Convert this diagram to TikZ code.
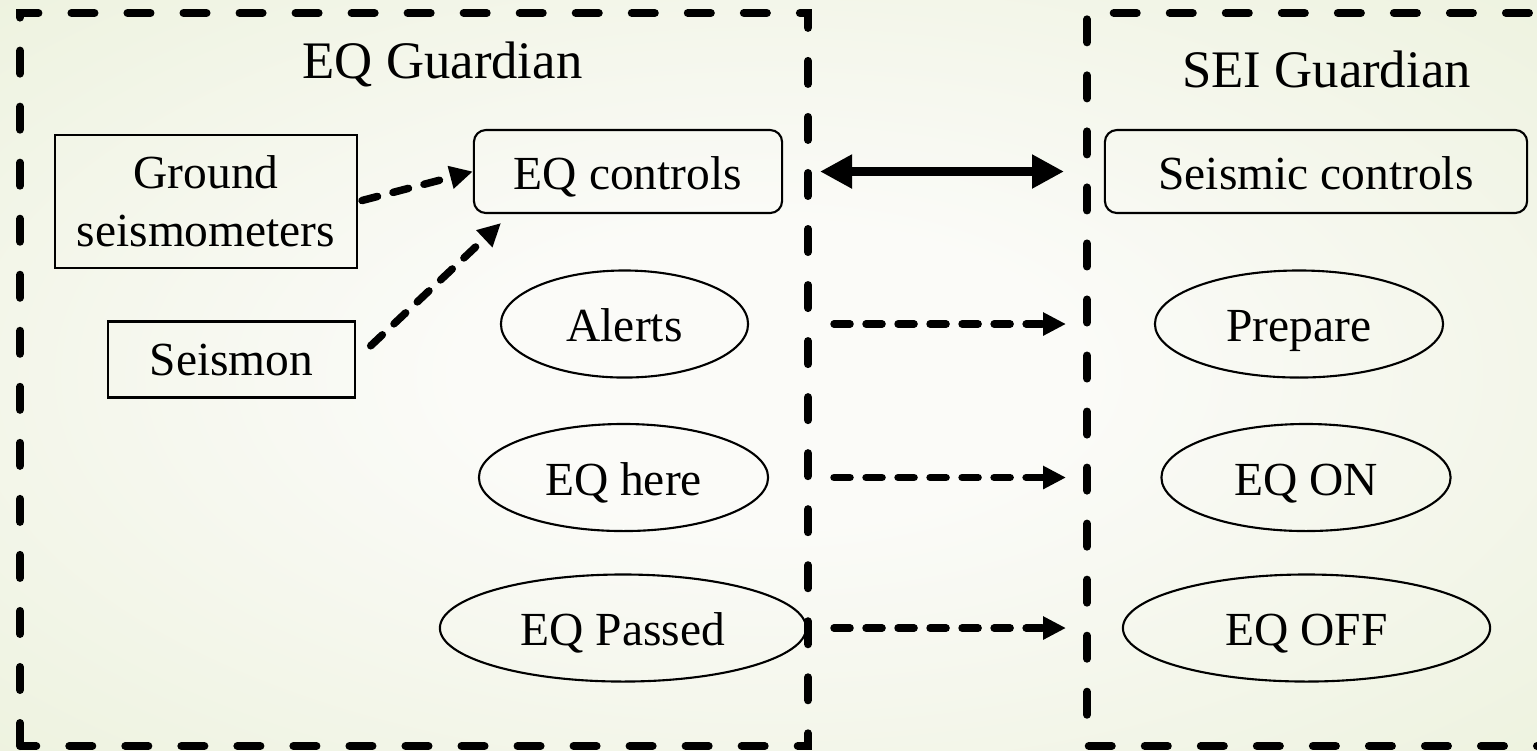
\documentclass[tikz,border=0pt]{standalone}
\usepackage{fontspec}
\setmainfont{Liberation Serif}
\usetikzlibrary{shapes.geometric, arrows.meta}

\definecolor{bgedge}{RGB}{225,234,200}
\definecolor{bgmid}{RGB}{251,251,248}
\pgfdeclareradialshading{slideglow}{\pgfpoint{0bp}{0bp}}{color(0bp)=(bgmid); color(10bp)=(bgmid); color(60bp)=(bgedge); color(71bp)=(bgedge)}

\begin{document}
\begin{tikzpicture}[x=0.01cm, y=-0.01cm, line width=0.6pt,
        every node/.style={font=\fontsize{13.5}{16.5}\selectfont, inner sep=0pt},
        guardbox/.style={line width=0.08cm, line cap=round, dash pattern=on 0.23cm off 0.33cm},
        srcbox/.style={draw, minimum height=0.76cm, align=center},
        ctrlbox/.style={draw, rounded corners=0.12cm, minimum height=0.83cm, text height=10pt, text depth=0pt},
        statebox/.style={draw, ellipse, minimum height=1.07cm, text height=10pt, text depth=0pt},
        signal/.style={line width=0.075cm, line cap=round, dash pattern=on 0.16cm off 0.16cm,
            -{Triangle[length=0.23cm, width=0.22cm]}},
        link/.style={line width=0.09cm,
            {Triangle[length=0.32cm, width=0.32cm]}-{Triangle[length=0.32cm, width=0.32cm]}}]
        \shade[shading=slideglow] (0, 0) rectangle (1537, 750);
        \useasboundingbox (0, 0) rectangle (1537, 750);
        \clip (0, 0) rectangle (1537, 750);

        \draw[guardbox] (20, 746) -- (20, 13) -- (808, 13) -- (808, 746) -- cycle;
        \draw[guardbox] (1560, 746) -- (1087, 746) -- (1087, 13) -- (1560, 13);
        \node[anchor=base, font=\fontsize{15}{18}\selectfont] (eqtitle) at (442.5, 78) {EQ Guardian};
        \node[anchor=base, font=\fontsize{15}{18}\selectfont] (seititle) at (1326.5, 87) {SEI Guardian};

        \node[srcbox, minimum width=3.02cm, minimum height=1.33cm] (gnd) at (206, 201.5) {Ground\\seismometers};
        \node[srcbox, minimum width=2.47cm] (seis) at (231.5, 359.5) {Seismon};
        \node[ctrlbox, minimum width=3.08cm] (ctrl) at (628, 171.5) {EQ controls};
        \node[statebox, minimum width=2.47cm] (alerts) at (624.5, 324) {Alerts};
        \node[statebox, minimum width=2.89cm] (here) at (623.5, 477.5) {EQ here};
        \node[statebox, minimum width=3.66cm] (passed) at (623, 628) {EQ Passed};

        \node[ctrlbox, minimum width=4.22cm] (sctrl) at (1316, 171.5) {Seismic controls};
        \node[statebox, minimum width=2.88cm] (prep) at (1299, 324) {Prepare};
        \node[statebox, minimum width=2.89cm] (eqon) at (1306, 477.5) {EQ ON};
        \node[statebox, minimum width=3.67cm] (eqoff) at (1306.5, 628) {EQ OFF};

        \coordinate (ctrlin) at (501, 223);
        \draw[signal, shorten <=0.04cm] (gnd.east) -- (ctrl.west);
        \draw[signal, shorten <=0.2cm] (seis.east) -- (ctrlin);

        \coordinate (lin) at (820, 0);
        \coordinate (rout) at (1064, 0);
        \coordinate (lout) at (834, 0);
        \coordinate (rin) at (1066, 0);
        \draw[link] (ctrl -| lin) -- (sctrl -| rout);
        \draw[signal] (alerts -| lout) -- (prep -| rin);
        \draw[signal] (here -| lout) -- (eqon -| rin);
        \draw[signal] (passed -| lout) -- (eqoff -| rin);
    \end{tikzpicture}
\end{document}
